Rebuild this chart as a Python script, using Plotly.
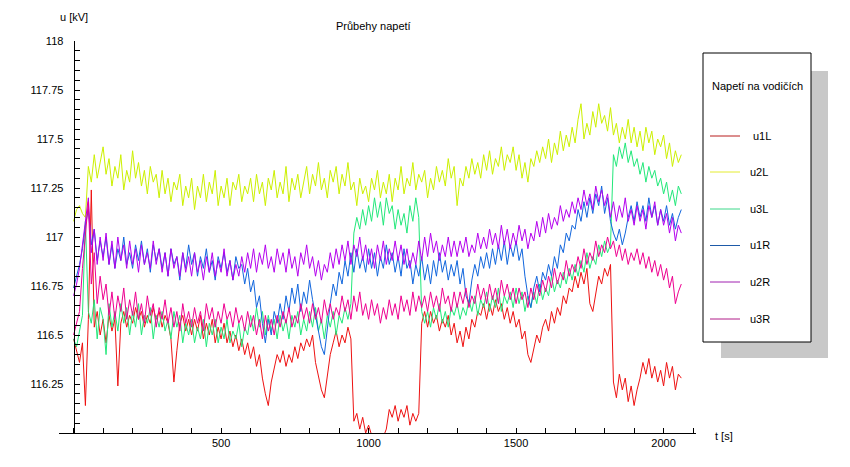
import plotly.graph_objects as go

# ---------------- data ----------------
time_s = list(range(0, 2061, 10))

u1L = [116.48, 116.42, 116.36, 116.46, 116.14, 116.58, 117.24, 116.54, 116.62, 116.50,
       116.58, 116.46, 116.60, 116.52, 116.58, 116.24, 116.56, 116.62, 116.54, 116.60,
       116.56, 116.64, 116.58, 116.62, 116.54, 116.60, 116.56, 116.64, 116.58, 116.62,
       116.54, 116.60, 116.56, 116.48, 116.26, 116.42, 116.56, 116.60, 116.52, 116.58,
       116.50, 116.58, 116.52, 116.60, 116.48, 116.56, 116.50, 116.58, 116.46, 116.54,
       116.48, 116.56, 116.46, 116.52, 116.44, 116.50, 116.42, 116.48, 116.40, 116.46,
       116.38, 116.44, 116.34, 116.40, 116.28, 116.20, 116.14, 116.26, 116.34, 116.40,
       116.36, 116.42, 116.34, 116.40, 116.36, 116.44, 116.38, 116.46, 116.42, 116.48,
       116.44, 116.50, 116.36, 116.28, 116.22, 116.18, 116.30, 116.40, 116.46, 116.52,
       116.44, 116.50, 116.46, 116.54, 116.48, 116.06, 116.10, 116.02, 116.08, 116.00,
       116.04, 115.98, 115.94, 115.96, 115.92, 115.98, 116.02, 116.12, 116.08, 116.14,
       116.06, 116.12, 116.08, 116.14, 116.04, 116.10, 116.06, 116.10, 116.56, 116.62,
       116.54, 116.62, 116.56, 116.60, 116.52, 116.58, 116.54, 116.60, 116.50, 116.56,
       116.46, 116.52, 116.44, 116.54, 116.48, 116.58, 116.54, 116.62, 116.60, 116.66,
       116.58, 116.66, 116.60, 116.68, 116.62, 116.66, 116.58, 116.64, 116.56, 116.62,
       116.54, 116.58, 116.48, 116.52, 116.40, 116.36, 116.44, 116.50, 116.46, 116.54,
       116.58, 116.52, 116.62, 116.56, 116.64, 116.60, 116.70, 116.66, 116.74, 116.72,
       116.80, 116.74, 116.82, 116.76, 116.84, 116.66, 116.62, 116.72, 116.80, 116.76,
       116.84, 116.80, 116.86, 116.26, 116.18, 116.30, 116.22, 116.28, 116.16, 116.24,
       116.14, 116.22, 116.28, 116.36, 116.30, 116.38, 116.28, 116.34, 116.26, 116.32,
       116.24, 116.36, 116.28, 116.34, 116.22, 116.30, 116.28]

u2L = [117.08, 117.14, 117.16, 117.12, 117.10, 117.36, 117.28, 117.42, 117.30, 117.38,
       117.46, 117.32, 117.40, 117.26, 117.36, 117.30, 117.42, 117.24, 117.34, 117.28,
       117.44, 117.30, 117.38, 117.26, 117.34, 117.22, 117.36, 117.28, 117.32, 117.20,
       117.34, 117.22, 117.30, 117.18, 117.28, 117.24, 117.32, 117.16, 117.26, 117.20,
       117.30, 117.14, 117.26, 117.20, 117.32, 117.18, 117.28, 117.22, 117.34, 117.16,
       117.26, 117.20, 117.30, 117.16, 117.28, 117.24, 117.32, 117.18, 117.26, 117.22,
       117.30, 117.18, 117.32, 117.22, 117.28, 117.16, 117.30, 117.24, 117.34, 117.20,
       117.28, 117.22, 117.36, 117.18, 117.30, 117.24, 117.32, 117.20, 117.28, 117.36,
       117.22, 117.32, 117.26, 117.38, 117.24, 117.30, 117.20, 117.34, 117.28, 117.36,
       117.22, 117.32, 117.26, 117.38, 117.24, 117.28, 117.16, 117.30, 117.22, 117.26,
       117.18, 117.30, 117.24, 117.34, 117.20, 117.28, 117.22, 117.32, 117.18, 117.30,
       117.24, 117.36, 117.22, 117.30, 117.26, 117.38, 117.24, 117.32, 117.28, 117.34,
       117.20, 117.30, 117.24, 117.36, 117.28, 117.34, 117.26, 117.40, 117.30, 117.36,
       117.16, 117.30, 117.26, 117.36, 117.30, 117.40, 117.32, 117.38, 117.30, 117.42,
       117.34, 117.44, 117.32, 117.40, 117.36, 117.46, 117.34, 117.42, 117.38, 117.46,
       117.34, 117.42, 117.30, 117.38, 117.28, 117.40, 117.36, 117.44, 117.38, 117.46,
       117.40, 117.50, 117.38, 117.48, 117.42, 117.54, 117.44, 117.52, 117.46, 117.56,
       117.48, 117.60, 117.68, 117.50, 117.58, 117.52, 117.64, 117.56, 117.68, 117.58,
       117.62, 117.54, 117.66, 117.52, 117.58, 117.48, 117.56, 117.50, 117.60, 117.48,
       117.56, 117.46, 117.54, 117.44, 117.56, 117.48, 117.54, 117.42, 117.50, 117.46,
       117.52, 117.40, 117.48, 117.36, 117.44, 117.38, 117.42]

u3L = [116.48, 116.44, 116.52, 116.60, 117.08, 116.62, 116.56, 116.68, 116.48, 116.64,
       116.58, 116.40, 116.66, 116.54, 116.62, 116.52, 116.66, 116.56, 116.64, 116.50,
       116.62, 116.54, 116.66, 116.50, 116.60, 116.56, 116.64, 116.48, 116.60, 116.54,
       116.62, 116.52, 116.58, 116.48, 116.62, 116.54, 116.60, 116.46, 116.56, 116.50,
       116.58, 116.46, 116.54, 116.48, 116.58, 116.44, 116.56, 116.50, 116.58, 116.46,
       116.54, 116.48, 116.58, 116.46, 116.52, 116.48, 116.56, 116.44, 116.54, 116.50,
       116.60, 116.52, 116.64, 116.54, 116.62, 116.50, 116.60, 116.52, 116.58, 116.48,
       116.60, 116.52, 116.58, 116.48, 116.60, 116.54, 116.62, 116.50, 116.58, 116.52,
       116.62, 116.54, 116.64, 116.52, 116.58, 116.48, 116.60, 116.54, 116.62, 116.50,
       116.60, 116.56, 116.64, 116.58, 116.66, 117.02, 117.10, 117.04, 117.14, 117.06,
       117.16, 117.08, 117.20, 117.10, 117.18, 117.06, 117.20, 117.12, 117.16, 117.04,
       117.14, 117.06, 117.12, 117.02, 117.16, 117.08, 117.20, 117.10, 116.62, 116.56,
       116.62, 116.54, 116.64, 116.58, 116.66, 116.56, 116.62, 116.54, 116.64, 116.60,
       116.66, 116.58, 116.64, 116.60, 116.68, 116.62, 116.70, 116.60, 116.68, 116.64,
       116.72, 116.62, 116.70, 116.64, 116.74, 116.62, 116.70, 116.66, 116.72, 116.64,
       116.74, 116.66, 116.72, 116.62, 116.70, 116.64, 116.72, 116.66, 116.76, 116.68,
       116.74, 116.70, 116.80, 116.72, 116.78, 116.74, 116.82, 116.76, 116.84, 116.78,
       116.86, 116.80, 116.88, 116.82, 116.92, 116.84, 116.90, 116.86, 116.96, 116.90,
       116.98, 116.92, 116.96, 117.42, 117.36, 117.46, 117.40, 117.48, 117.38, 117.44,
       117.36, 117.40, 117.32, 117.38, 117.28, 117.36, 117.30, 117.34, 117.26, 117.30,
       117.22, 117.28, 117.18, 117.24, 117.16, 117.26, 117.22]

u1R = [116.74, 116.80, 116.86, 116.94, 117.06, 117.14, 116.96, 117.04, 116.88, 116.98,
       116.90, 117.00, 116.86, 116.96, 116.84, 116.94, 116.88, 117.00, 116.86, 116.92,
       116.84, 116.96, 116.88, 116.98, 116.86, 116.94, 116.82, 116.96, 116.88, 116.94,
       116.84, 116.92, 116.80, 116.94, 116.86, 116.90, 116.78, 116.92, 116.84, 116.96,
       116.86, 116.92, 116.80, 116.90, 116.84, 116.94, 116.82, 116.88, 116.78, 116.90,
       116.84, 116.92, 116.82, 116.88, 116.78, 116.90, 116.84, 116.86, 116.76, 116.84,
       116.72, 116.78, 116.64, 116.70, 116.56, 116.46, 116.58, 116.50, 116.62, 116.56,
       116.66, 116.58, 116.70, 116.62, 116.74, 116.66, 116.76, 116.62, 116.72, 116.66,
       116.78, 116.68, 116.60, 116.52, 116.44, 116.40, 116.54, 116.66, 116.76, 116.70,
       116.82, 116.76, 116.88, 116.80, 116.92, 116.82, 116.94, 116.84, 116.90, 116.82,
       116.94, 116.84, 116.92, 116.80, 116.90, 116.84, 116.96, 116.86, 116.92, 116.82,
       116.90, 116.80, 116.94, 116.84, 116.88, 116.76, 116.86, 116.80, 116.90, 116.78,
       116.86, 116.76, 116.88, 116.80, 116.92, 116.82, 116.88, 116.78, 116.86, 116.80,
       116.88, 116.76, 116.84, 116.70, 116.66, 116.78, 116.86, 116.80, 116.90, 116.84,
       116.92, 116.84, 116.94, 116.86, 116.96, 116.88, 116.98, 116.86, 116.96, 116.90,
       116.98, 116.88, 116.94, 116.80, 116.70, 116.64, 116.74, 116.80, 116.72, 116.82,
       116.78, 116.86, 116.80, 116.90, 116.84, 116.96, 116.92, 117.02, 116.98, 117.06,
       117.04, 117.14, 117.08, 117.18, 117.10, 117.20, 117.12, 117.22, 117.16, 117.26,
       117.12, 117.20, 117.08, 117.02, 116.98, 117.04, 116.96, 117.02, 117.10, 117.16,
       117.08, 117.18, 117.10, 117.16, 117.08, 117.20, 117.10, 117.16, 117.06, 117.14,
       117.08, 117.16, 117.06, 117.12, 117.04, 117.10, 117.14]

u2R = [116.70, 116.76, 116.84, 116.96, 117.10, 117.20, 116.92, 117.04, 116.86, 117.00,
       116.88, 117.02, 116.86, 116.98, 116.84, 117.00, 116.88, 116.96, 116.84, 116.98,
       116.86, 116.94, 116.82, 116.96, 116.86, 116.92, 116.84, 116.98, 116.86, 116.94,
       116.82, 116.92, 116.80, 116.94, 116.84, 116.90, 116.80, 116.92, 116.82, 116.90,
       116.80, 116.92, 116.82, 116.88, 116.78, 116.90, 116.82, 116.92, 116.80, 116.88,
       116.82, 116.94, 116.80, 116.88, 116.78, 116.86, 116.80, 116.90, 116.82, 116.92,
       116.84, 116.94, 116.82, 116.92, 116.86, 116.96, 116.84, 116.90, 116.82, 116.94,
       116.86, 116.92, 116.82, 116.94, 116.84, 116.90, 116.80, 116.92, 116.86, 116.96,
       116.84, 116.90, 116.80, 116.88, 116.78, 116.86, 116.82, 116.92, 116.84, 116.94,
       116.86, 116.96, 116.88, 116.98, 116.86, 116.96, 116.90, 117.00, 116.88, 116.96,
       116.86, 116.94, 116.84, 116.96, 116.88, 116.98, 116.86, 116.94, 116.88, 116.98,
       116.88, 116.96, 116.86, 116.94, 116.84, 116.92, 116.86, 116.98, 116.88, 117.00,
       116.90, 117.02, 116.92, 116.98, 116.88, 116.96, 116.90, 117.00, 116.90, 116.98,
       116.90, 116.98, 116.92, 117.00, 116.90, 116.96, 116.92, 117.02, 116.94, 117.00,
       116.94, 117.04, 116.96, 117.02, 116.94, 117.06, 116.96, 117.04, 116.94, 117.02,
       116.96, 117.06, 116.98, 117.04, 116.94, 117.02, 116.98, 117.08, 117.00, 117.10,
       117.02, 117.12, 117.04, 117.10, 117.06, 117.16, 117.08, 117.14, 117.10, 117.18,
       117.12, 117.20, 117.14, 117.24, 117.16, 117.22, 117.14, 117.26, 117.18, 117.24,
       117.16, 117.22, 117.10, 117.18, 117.08, 117.16, 117.10, 117.20, 117.08, 117.14,
       117.06, 117.16, 117.08, 117.14, 117.04, 117.16, 117.10, 117.18, 117.06, 117.14,
       117.06, 117.12, 117.02, 117.10, 116.98, 117.06, 117.02]

u3R = [116.50, 116.56, 116.62, 116.84, 117.00, 117.18, 116.76, 116.92, 116.66, 116.80,
       116.68, 116.76, 116.60, 116.72, 116.58, 116.70, 116.62, 116.74, 116.58, 116.68,
       116.60, 116.72, 116.58, 116.66, 116.56, 116.70, 116.60, 116.66, 116.54, 116.64,
       116.58, 116.68, 116.56, 116.64, 116.54, 116.62, 116.52, 116.66, 116.56, 116.62,
       116.54, 116.64, 116.56, 116.62, 116.52, 116.66, 116.58, 116.64, 116.54, 116.62,
       116.56, 116.66, 116.58, 116.62, 116.54, 116.64, 116.56, 116.60, 116.52, 116.62,
       116.54, 116.60, 116.50, 116.58, 116.48, 116.60, 116.52, 116.58, 116.50, 116.60,
       116.54, 116.62, 116.56, 116.64, 116.54, 116.60, 116.56, 116.66, 116.58, 116.64,
       116.56, 116.66, 116.58, 116.64, 116.56, 116.68, 116.60, 116.66, 116.58, 116.64,
       116.60, 116.70, 116.62, 116.68, 116.58, 116.70, 116.62, 116.72, 116.60, 116.66,
       116.58, 116.68, 116.60, 116.66, 116.56, 116.64, 116.58, 116.68, 116.60, 116.66,
       116.58, 116.70, 116.62, 116.68, 116.60, 116.72, 116.62, 116.70, 116.64, 116.70,
       116.62, 116.72, 116.64, 116.70, 116.62, 116.74, 116.66, 116.70, 116.62, 116.72,
       116.64, 116.72, 116.66, 116.74, 116.64, 116.70, 116.66, 116.76, 116.68, 116.74,
       116.66, 116.76, 116.68, 116.74, 116.66, 116.78, 116.70, 116.76, 116.68, 116.74,
       116.66, 116.74, 116.68, 116.72, 116.64, 116.74, 116.68, 116.76, 116.70, 116.78,
       116.72, 116.80, 116.74, 116.84, 116.76, 116.82, 116.78, 116.88, 116.80, 116.86,
       116.82, 116.90, 116.84, 116.94, 116.86, 116.92, 116.88, 116.98, 116.90, 116.96,
       116.92, 117.00, 116.94, 116.98, 116.90, 116.96, 116.88, 116.94, 116.86, 116.92,
       116.88, 116.94, 116.86, 116.92, 116.84, 116.90, 116.82, 116.88, 116.80, 116.86,
       116.78, 116.84, 116.74, 116.80, 116.66, 116.72, 116.76]

series_names = ["u1L", "u2L", "u3L", "u1R", "u2R", "u3R"]
series_values = [u1L, u2L, u3L, u1R, u2R, u3R]
for _v in series_values:
    assert len(_v) == len(time_s), len(_v)

x_tick_values = [500, 1000, 1500, 2000]
x_tick_labels = ["500", "1000", "1500", "2000"]
y_tick_values = [116.25, 116.5, 116.75, 117.0, 117.25, 117.5, 117.75, 118.0]
y_tick_labels = ["116.25", "116.5", "116.75", "117", "117.25", "117.5", "117.75", "118"]

# ---------------- style ----------------
line_colors = ["#ee1111", "#ccf000", "#22e87a", "#1166dd", "#b400ee", "#ee0090"]
legend_colors = ["#b81c1c", "#e4ec30", "#3cd88a", "#1e5aa8", "#a020b0", "#b01c88"]
FONT = "Arial, Liberation Sans, sans-serif"

W, H = 850, 467
PL, PR, PT, PB = 59, 696, 41, 433  # plot area in pixels


def pxx(x):
    return (x - PL) / (PR - PL)


def pyy(y):
    return (PB - y) / (PB - PT)


fig = go.Figure()
for name, vals, col in zip(series_names, series_values, line_colors):
    fig.add_trace(go.Scatter(x=time_s, y=vals, mode="lines", name=name,
                             line=dict(color=col, width=1), showlegend=False))

x0_px = 73.6
px_per_s = 0.295
x_range = [(PL - x0_px) / px_per_s, (PR - x0_px) / px_per_s]

fig.update_layout(
    width=W, height=H,
    margin=dict(l=PL, r=W - PR, t=PT, b=H - PB),
    paper_bgcolor="white", plot_bgcolor="white",
    font=dict(family=FONT, size=11, color="black"),
    xaxis=dict(range=x_range, showgrid=False, zeroline=False,
               showline=True, linecolor="black", linewidth=1,
               ticks="inside", ticklen=5, tickcolor="black",
               tickmode="array", tickvals=x_tick_values, ticktext=x_tick_labels,
               minor=dict(ticks="inside", ticklen=5, tickcolor="black",
                          dtick=100, tick0=0),
               tickfont=dict(family=FONT, size=11)),
    yaxis=dict(range=[116, 118], showgrid=False, zeroline=False,
               anchor="free", position=pxx(x0_px),
               showline=True, linecolor="black", linewidth=1,
               ticks="inside", ticklen=5, tickcolor="black",
               tickmode="array", tickvals=y_tick_values, ticktext=y_tick_labels,
               minor=dict(ticks="inside", ticklen=5, tickcolor="black",
                          dtick=0.05, tick0=116),
               ticklabelstandoff=8,
               tickfont=dict(family=FONT, size=11)),
)

annotations = [
    dict(text="Průbehy napetí", x=pxx(373), y=pyy(26), xanchor="center", yanchor="middle"),
    dict(text="u [kV]", x=pxx(74), y=pyy(17), xanchor="center", yanchor="middle"),
    dict(text="t [s]", x=pxx(713), y=pyy(436), xanchor="left", yanchor="middle"),
    dict(text="Napetí na vodičích", x=pxx(710), y=pyy(86), xanchor="left", yanchor="middle"),
]
shapes = [
    dict(type="rect", x0=pxx(721), x1=pxx(828), y0=pyy(71), y1=pyy(358),
         fillcolor="#c8c8c8", line=dict(width=0), layer="below"),
    dict(type="rect", x0=pxx(703), x1=pxx(811), y0=pyy(53), y1=pyy(342),
         fillcolor="white", line=dict(color="black", width=1), layer="below"),
]
legend_y = [136, 172, 209, 245.5, 282, 319]
for name, col, ly in zip(series_names, legend_colors, legend_y):
    shapes.append(dict(type="line", x0=pxx(710), x1=pxx(740), y0=pyy(ly), y1=pyy(ly),
                       line=dict(color=col, width=1)))
    annotations.append(dict(text=name, x=pxx(748 if name != "u1L" else 751), y=pyy(ly),
                            xanchor="left", yanchor="middle"))

for a in annotations:
    a.update(xref="paper", yref="paper", showarrow=False,
             font=dict(family=FONT, size=11, color="black"))
for s in shapes:
    s.update(xref="paper", yref="paper")

fig.update_layout(annotations=annotations, shapes=shapes)
fig.write_html("out.html")
